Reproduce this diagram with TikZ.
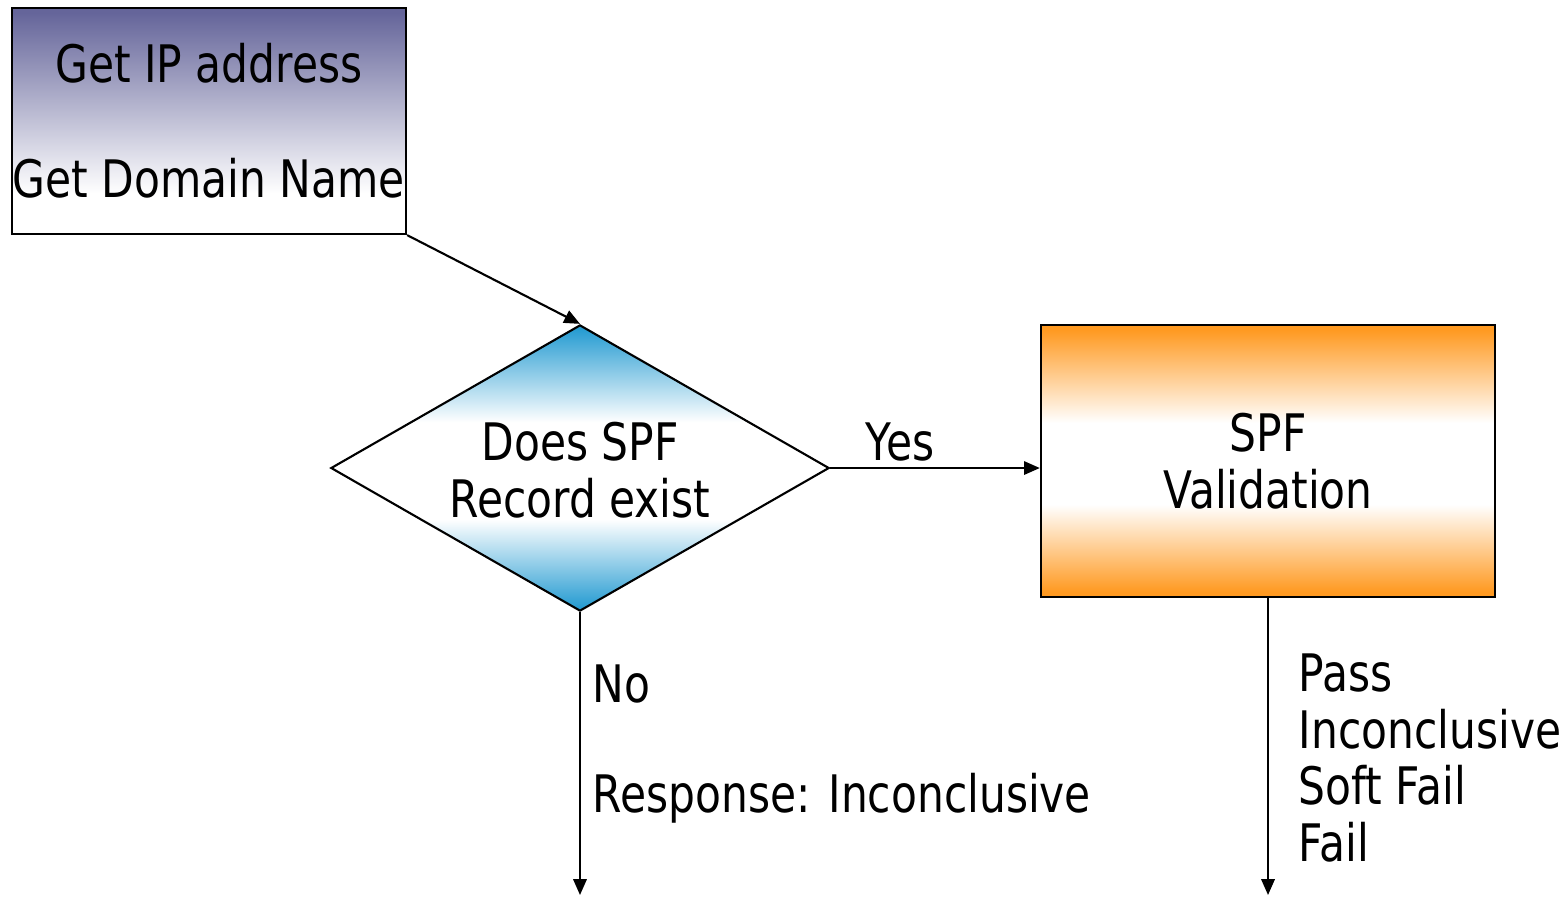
\documentclass[tikz,border=0pt]{standalone}
\usepackage{fontspec}
\setmainfont{DejaVu Sans}[FakeStretch=0.82]
\usetikzlibrary{shapes.geometric,arrows.meta}
\definecolor{boxpurple}{RGB}{101,101,154}
\definecolor{diablue}{RGB}{30,152,208}
\definecolor{boxorange}{RGB}{255,154,34}
\pgfdeclareverticalshading{diashade}{100bp}{color(0bp)=(diablue); color(25bp)=(diablue); color(41bp)=(white); color(58bp)=(white); color(75bp)=(diablue); color(100bp)=(diablue)}
\pgfdeclareverticalshading{orangeshade}{100bp}{color(0bp)=(boxorange); color(26bp)=(boxorange); color(42bp)=(white); color(57bp)=(white); color(74bp)=(boxorange); color(100bp)=(boxorange)}
\pgfdeclareverticalshading{purpleshade}{100bp}{color(0bp)=(white); color(25bp)=(white); color(34bp)=(white); color(74bp)=(boxpurple); color(100bp)=(boxpurple)}
\tikzset{
  x=0.01cm, y=-0.01cm,
  every node/.style={font=\fontsize{14.7}{16.1}\selectfont, inner sep=0pt},
  arr/.style={draw=black, line width=0.6pt, -{Triangle[length=4.5pt,width=3.8pt]}},
  outline/.style={draw=black, line width=0.6pt},
  lbl/.style={anchor=west, align=left}
}
\begin{document}
\begin{tikzpicture}
\useasboundingbox (0,0) rectangle (1564,896);
\node[outline, rectangle, minimum width=3.94cm, minimum height=2.26cm,
      shading=purpleshade, align=center]
  (getip) at (209,121) {Get IP address\\[16.6pt]Get Domain Name};
\node[outline, diamond, minimum width=4.98cm, minimum height=2.86cm,
      shading=diashade]
  (dia) at (580,468) {};
\node[align=center] (diatext) at (580,470) {Does SPF\\Record exist};
\node[outline, rectangle, minimum width=4.54cm, minimum height=2.72cm,
      shading=orangeshade, align=center]
  (spf) at (1268,461) {SPF\\Validation};
\coordinate (noend) at (580,895);
\coordinate (spfend) at (1268,895);
\draw[arr] (getip.south east) -- (dia.north);
\draw[arr] (dia.east) -- (dia.east -| spf.west);
\draw[arr] (dia.south) -- (noend);
\draw[arr] (spf.south) -- (spfend);
\node (yes) at (900,442) {Yes};
\node[lbl] (no) at (592,684) {No};
\node[lbl] (resp) at (592,798) {Response: Inconclusive};
\node[lbl] (results) at (1298,758) {Pass\\Inconclusive\\Soft Fail\\Fail};
\end{tikzpicture}
\end{document}
